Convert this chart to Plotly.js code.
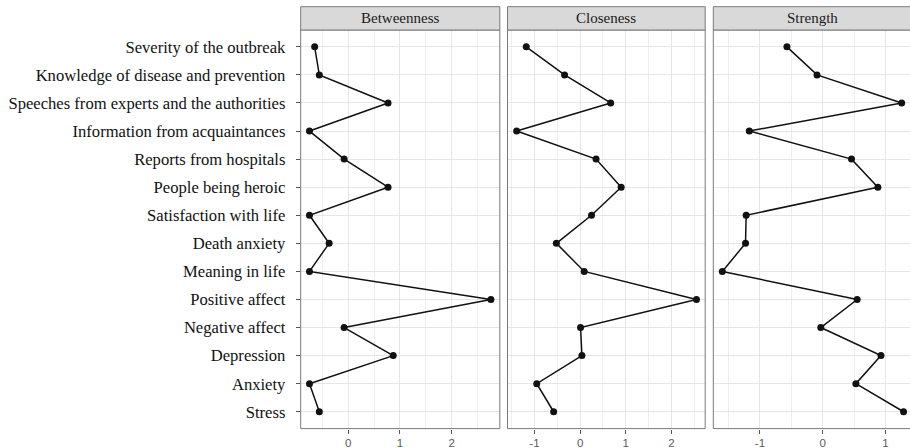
<!DOCTYPE html>
<html>
<head>
<meta charset="utf-8">
<script src="https://cdn.plot.ly/plotly-3.0.1.min.js"></script>
<style>
html,body{margin:0;padding:0;overflow:hidden;background:#fff;}
#chart{width:914px;height:448px;}
</style>
</head>
<body>
<div id="chart"></div>
<script>
const categories = [
  "Severity of the outbreak",
  "Knowledge of disease and prevention",
  "Speeches from experts and the authorities",
  "Information from acquaintances",
  "Reports from hospitals",
  "People being heroic",
  "Satisfaction with life",
  "Death anxiety",
  "Meaning in life",
  "Positive affect",
  "Negative affect",
  "Depression",
  "Anxiety",
  "Stress"
];
const panelTitles = ["Betweenness", "Closeness", "Strength"];
const betweenness = [-0.65, -0.56, 0.77, -0.75, -0.08, 0.77, -0.75, -0.37, -0.75, 2.76, -0.08, 0.87, -0.75, -0.56];
const closeness   = [-1.18, -0.34, 0.67, -1.39, 0.35, 0.90, 0.25, -0.52, 0.09, 2.55, 0.01, 0.04, -0.95, -0.58];
const strength    = [-0.57, -0.09, 1.26, -1.17, 0.46, 0.88, -1.22, -1.23, -1.60, 0.55, -0.03, 0.93, 0.53, 1.29];
const tickValsB = [0, 1, 2];
const tickTextB = ["0", "1", "2"];
const tickValsC = [-1, 0, 1, 2];
const tickTextC = ["-1", "0", "1", "2"];
const tickValsS = [-1, 0, 1];
const tickTextS = ["-1", "0", "1"];

const W = 914, H = 448;
const px = v => v / W;
const py = v => 1 - v / H;

const series = [betweenness, closeness, strength];
const axKeys = ["", "2", "3"];
const traces = series.map((vals, i) => ({
  type: "scatter",
  mode: "lines+markers",
  x: vals,
  y: categories,
  xaxis: "x" + axKeys[i],
  yaxis: "y" + axKeys[i],
  line: {color: "#111111", width: 1.5},
  marker: {color: "#111111", size: 7},
  cliponaxis: false,
  showlegend: false,
  hoverinfo: "x+y"
}));

const domainsPx = [[300.7, 499.8], [507.5, 705.2], [713.3, 912.4]];
const ranges = [[-0.92, 2.932], [-1.591, 2.742], [-1.744, 1.431]];
const tickSets = [[tickValsB, tickTextB], [tickValsC, tickTextC], [tickValsS, tickTextS]];
const yDom = [py(428.6), py(30)];
const stripTop = py(6.7), stripBot = py(30);

const layout = {
  width: W, height: H,
  margin: {l: 0, r: 0, t: 0, b: 0},
  paper_bgcolor: "#ffffff",
  plot_bgcolor: "#ffffff",
  showlegend: false,
  shapes: [],
  annotations: []
};

for (let i = 0; i < 3; i++) {
  const k = axKeys[i];
  layout["xaxis" + k] = {
    domain: [px(domainsPx[i][0]), px(domainsPx[i][1])],
    anchor: "y" + k,
    range: ranges[i],
    tickmode: "array",
    tickvals: tickSets[i][0],
    ticktext: tickSets[i][1],
    ticks: "outside",
    ticklen: 4,
    tickwidth: 1,
    tickcolor: "#555555",
    tickfont: {family: "Liberation Sans, Arial, sans-serif", size: 11.5, color: "#595959"},
    showgrid: true,
    gridcolor: "#e6e6e6",
    gridwidth: 1,
    minor: {tickvals: [-1.5, -0.5, 0.5, 1.5, 2.5], showgrid: true, gridcolor: "#eeeeee", gridwidth: 1},
    zeroline: false,
    showline: false,
    automargin: false,
    fixedrange: true
  };
  layout["yaxis" + k] = {
    domain: yDom,
    anchor: "x" + k,
    type: "category",
    categoryarray: categories,
    categoryorder: "array",
    range: [13.6, -0.6],
    showticklabels: i === 0,
    ticks: i === 0 ? "outside" : "",
    ticklen: 4,
    tickwidth: 1,
    tickcolor: "#555555",
    ticklabelstandoff: 7,
    tickfont: {family: "Liberation Serif, Times New Roman, serif", size: 16.6, color: "#111111"},
    showgrid: true,
    gridcolor: "#e6e6e6",
    gridwidth: 1,
    zeroline: false,
    showline: false,
    automargin: false,
    fixedrange: true
  };
  if (i > 0) layout["yaxis" + k].matches = "y";

  layout.shapes.push({
    type: "rect", xref: "x" + k + " domain", yref: "y" + k + " domain",
    x0: 0, x1: 1, y0: 0, y1: 1,
    line: {color: "#7a7a7a", width: 1}, fillcolor: "rgba(0,0,0,0)", layer: "above"
  });
  layout.shapes.push({
    type: "rect", xref: "x" + k + " domain", yref: "paper",
    x0: 0, x1: 1, y0: stripBot, y1: stripTop,
    line: {color: "#7a7a7a", width: 1}, fillcolor: "#d9d9d9", layer: "above"
  });
  layout.annotations.push({
    xref: "x" + k + " domain", yref: "paper",
    x: 0.5, y: (stripTop + stripBot) / 2,
    xanchor: "center", yanchor: "middle",
    text: panelTitles[i], showarrow: false,
    font: {family: "Liberation Serif, Times New Roman, serif", size: 15, color: "#1a1a1a"}
  });
}

Plotly.newPlot("chart", traces, layout, {displayModeBar: false, staticPlot: true});
</script>
</body>
</html>
